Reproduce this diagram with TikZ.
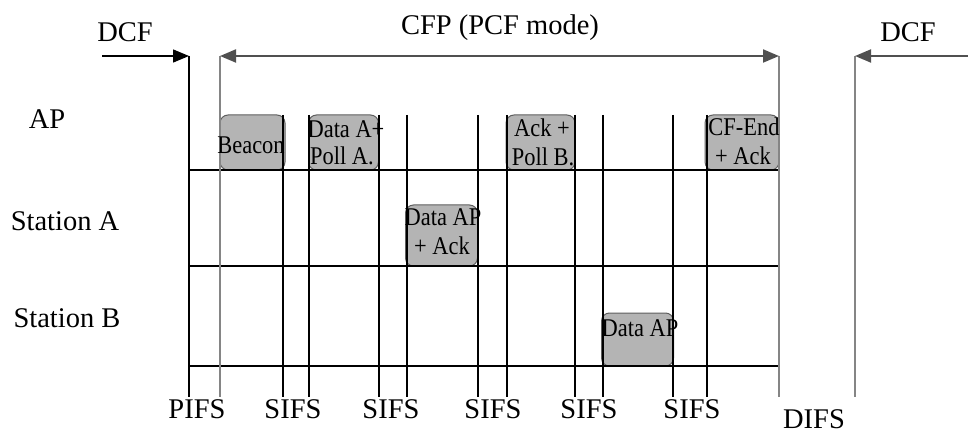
\documentclass[tikz,border=0pt]{standalone}
\usepackage{fontspec}
\setmainfont{Liberation Serif}
\newfontfamily\boxfont[FakeStretch=0.88]{Liberation Serif}
\usetikzlibrary{arrows.meta}
\definecolor{framefill}{HTML}{B4B4B4}
\definecolor{frameedge}{HTML}{5E5E5E}
\definecolor{boundary}{HTML}{858585}
\definecolor{spanline}{HTML}{505050}
\begin{document}
\begin{tikzpicture}[x=1pt,y=-1pt,
  lbl/.style={font=\fontsize{28.5}{30}\selectfont, inner sep=0pt, anchor=base},
  boxtxt/.style={font=\boxfont\fontsize{25.5}{27}\selectfont, inner sep=0pt, anchor=base},
  frame/.style={draw=frameedge, fill=framefill, rounded corners=8pt, line width=1pt,
                inner sep=0pt, minimum width=#1},
  frame/.default=70pt,
  slot/.style={line width=1.5pt, black},
  edge/.style={line width=2.2pt, boundary},
  tip/.style={-{Triangle[length=16pt,width=13pt]}},
  span/.style={line width=2pt, spanline}]
\useasboundingbox (0,0) rectangle (968,435);

% frames sent on the air
\node[frame=65pt, minimum height=55pt] (beacon) at (252.5,142.5) {};
\node[frame=70pt, minimum height=55pt] (dataA)  at (343.5,142.5) {};
\node[frame=69pt, minimum height=55pt] (ackB)   at (540.5,142.5) {};
\node[frame=74pt, minimum height=55pt] (cfend)  at (742,142.5) {};
\node[frame=72pt, minimum height=61pt] (dataAPa) at (441.5,235.5) {};
\node[frame=72pt, minimum height=53pt] (dataAPb) at (637.5,339.5) {};

% time lines of the three stations
\coordinate (apL) at (189,170);  \coordinate (apR) at (779,170);
\coordinate (saL) at (189,266);  \coordinate (saR) at (779,266);
\coordinate (sbL) at (189,366);  \coordinate (sbR) at (779,366);
\draw[slot] (apL) -- (apR);
\draw[slot] (saL) -- (saR);
\draw[slot] (sbL) -- (sbR);

% interframe space markers
\foreach \x in {283,309,379,407,478,507,575,603,673,707}{
  \draw[slot] (\x,115) -- (\x,397);
}
\coordinate (dcfEnd)  at (189,56);  \coordinate (dcfEndB)  at (189,397);
\coordinate (cfpL)    at (220,56);  \coordinate (cfpLB)    at (220,397);
\coordinate (cfpR)    at (779,56);  \coordinate (cfpRB)    at (779,397);
\coordinate (dcfBeg)  at (855,56);  \coordinate (dcfBegB)  at (855,397);
\draw[slot] (dcfEnd) -- (dcfEndB);
\draw[edge] (cfpL) -- (cfpLB);
\draw[edge] (cfpR) -- (cfpRB);
\draw[edge] (dcfBeg) -- (dcfBegB);

% period arrows
\coordinate (dcfFrom) at (102,56);
\coordinate (dcfTo)   at (968,56);
\draw[slot, tip] (dcfFrom) -- (dcfEnd);
\draw[span, {Triangle[length=16pt,width=13pt]}-{Triangle[length=16pt,width=13pt]}] (cfpL) -- (cfpR);
\draw[span, tip] (dcfTo) -- (dcfBeg);

% period labels
\node[lbl] (dcf1) at (125,42) {DCF};
\node[lbl] (cfp)  at (500,35) {CFP (PCF mode)};
\node[lbl] (dcf2) at (908,42) {DCF};

% station labels
\node[lbl] (lap) at (47,129) {AP};
\node[lbl] (lsa) at (65,231) {Station A};
\node[lbl] (lsb) at (67,327) {Station B};

% frame texts
\node[boxtxt] at (251,154) {Beacon};
\node[boxtxt] at (346,138) {Data A+};
\node[boxtxt] at (342,165) {Poll A.};
\node[boxtxt] at (542,137) {Ack +};
\node[boxtxt] at (543,166) {Poll B.};
\node[boxtxt] at (744,136) {CF-End};
\node[boxtxt] at (743,165) {+ Ack};
\node[boxtxt] at (443,226) {Data AP};
\node[boxtxt] at (442,255) {+ Ack};
\node[boxtxt] at (640,336) {Data AP};

% interframe space labels
\node[lbl] (pifs) at (197,418) {PIFS};
\node[lbl] (s1) at (293,418) {SIFS};
\node[lbl] (s2) at (391,418) {SIFS};
\node[lbl] (s3) at (493,418) {SIFS};
\node[lbl] (s4) at (589,418) {SIFS};
\node[lbl] (s5) at (692,418) {SIFS};
\node[lbl] (difs) at (814,428) {DIFS};
\end{tikzpicture}
\end{document}
